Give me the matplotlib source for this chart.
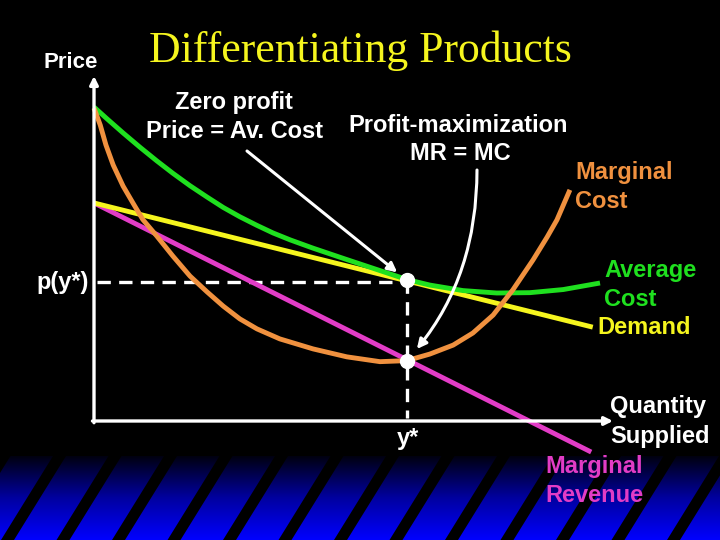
import numpy as np
import matplotlib
matplotlib.use("Agg")
import matplotlib.pyplot as plt
from matplotlib.colors import LinearSegmentedColormap

# curves, in (quantity, price) diagram units
ac_q = [0.0, 0.25, 0.56, 0.89, 1.21, 1.52, 1.85, 2.18, 2.49, 2.81, 3.14, 3.45, 3.78, 4.22,
        4.87, 5.51, 6.03, 6.47, 7.11, 7.76, 8.40, 9.04, 9.75]
ac_p = [9.10, 8.76, 8.35, 7.93, 7.54, 7.18, 6.82, 6.49, 6.19, 5.92, 5.67, 5.45, 5.25, 5.01,
        4.68, 4.36, 4.10, 3.94, 3.78, 3.71, 3.72, 3.81, 4.00]

mc_q = [0.0, 0.12, 0.23, 0.37, 0.56, 0.75, 0.94, 1.21, 1.52, 1.85, 2.18, 2.49, 2.81, 3.14,
        3.58, 4.22, 4.87, 5.51, 6.03, 6.47, 6.92, 7.30, 7.69, 8.07, 8.46, 8.73, 8.92, 9.17]
mc_p = [9.07, 8.58, 8.00, 7.42, 6.81, 6.32, 5.84, 5.36, 4.78, 4.20, 3.74, 3.33, 2.96, 2.67,
        2.38, 2.09, 1.86, 1.72, 1.75, 1.94, 2.20, 2.55, 3.07, 3.80, 4.67, 5.33, 5.83, 6.70]

demand_q = [0.0, 9.61]
demand_p = [6.32, 2.72]

mr_q = [0.0, 9.58]
mr_p = [6.32, -0.90]

y_star = 6.03
p_star = 4.08
mc_star = 1.75

GREEN = "#1fe01f"
ORANGE = "#f0913f"
YELLOW = "#f5f51e"
MAGENTA = "#e23cc6"
FONT = "Liberation Sans"

fig = plt.figure(figsize=(7.2, 5.4), dpi=100, facecolor="black")

# background layer in pixel coordinates (texts + striped footer)
bg = fig.add_axes([0, 0, 1, 1], zorder=0)
bg.axis("off")
bg.add_patch(plt.Rectangle((0, 0), 720, 540, color="black", zorder=0))

cmap = LinearSegmentedColormap.from_list("footer", ["#000010", "#0000a0", "#0000ff"])
grad = np.linspace(0, 1, 200).reshape(-1, 1)
bg.imshow(grad, cmap=cmap, extent=(0, 720, 540, 456), aspect="auto", zorder=1)
for x0 in np.arange(-110, 800, 55.5):
    bg.fill([x0, x0 + 13, x0 + 13 + 52, x0 + 52], [540, 540, 456, 456], color="black", lw=0, zorder=2)
bg.set_xlim(0, 720)
bg.set_ylim(540, 0)

bg.text(360, 51, "Differentiating Products", color="#f5f51e", fontsize=31.5,
        family="Liberation Serif", ha="center", va="center")
bg.text(71, 62, "Price", color="white", fontsize=16, family=FONT, weight="bold",
        ha="center", va="center")

def label(x, y, s, color="white", ha="left"):
    bg.text(x, y, s, color=color, fontsize=17, family=FONT, weight="bold", ha=ha, va="center")

label(234, 102, "Zero profit", ha="center")
label(235, 131, "Price = Av. Cost", ha="center")
label(458, 125, "Profit-maximization", ha="center")
label(460, 154, "MR = MC", ha="center")
label(63, 282, "p(y*)", ha="center")
label(408, 438, "y*", ha="center")
label(610, 407, "Quantity")
label(610, 436, "Supplied")
label(575, 173, "Marginal", ORANGE)
label(575, 202, "Cost", ORANGE)
label(604, 270, "Average", GREEN)
label(604, 299, "Cost", GREEN)
label(597, 328, "Demand", YELLOW)
label(545, 466, "Marginal", MAGENTA)
label(545, 495, "Revenue", MAGENTA)

# diagram axes
ax = fig.add_axes([94 / 720, 119 / 540, 519 / 720, 345 / 540], zorder=2)
ax.set_xlim(0, 10)
ax.set_ylim(0, 10)
ax.axis("off")
ax.patch.set_alpha(0)

axis_arrow = dict(arrowstyle="-|>", color="white", lw=2.4, mutation_scale=12, shrinkA=0, shrinkB=0)
ax.annotate("", xy=(0, 10), xytext=(0, -0.05), arrowprops=axis_arrow, annotation_clip=False)
ax.annotate("", xy=(10, 0), xytext=(-0.03, 0), arrowprops=axis_arrow, annotation_clip=False)

ax.plot([0.05, y_star], [p_star - 0.05, p_star - 0.05], color="white", lw=2.4, dashes=(4, 2.5), clip_on=False)
ax.plot([y_star, y_star], [p_star, 0.1], color="white", lw=2.4, dashes=(4, 2.5), clip_on=False)

line = dict(lw=3.5, clip_on=False, solid_capstyle="butt", solid_joinstyle="round")
ax.plot(mr_q, mr_p, color=MAGENTA, **line)
ax.plot(demand_q, demand_p, color=YELLOW, **line)
ax.plot(ac_q, ac_p, color=GREEN, **line)
ax.plot(mc_q, mc_p, color=ORANGE, **line)

ax.plot([y_star, y_star], [p_star, mc_star], "o", color="white", ms=10, zorder=5, clip_on=False)

ax.annotate("", xy=(y_star, p_star), xytext=(247, 151), textcoords=bg.transData,
            arrowprops=dict(arrowstyle="-|>", color="white", lw=2.2, mutation_scale=14,
                            shrinkA=0, shrinkB=9))
ax.annotate("", xy=(y_star, mc_star), xytext=(477, 170), textcoords=bg.transData,
            arrowprops=dict(arrowstyle="-|>", color="white", lw=2.2, mutation_scale=14,
                            shrinkA=0, shrinkB=11,
                            connectionstyle="angle3,angleA=90,angleB=48"))

fig.savefig("out.png", dpi=100, facecolor="black")
